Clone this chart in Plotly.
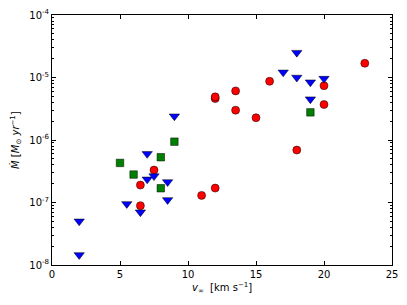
import plotly.graph_objects as go

# Red circles
red_x = [6.5, 6.5, 7.5, 11, 12, 12, 12, 13.5, 13.5, 15, 16, 18, 20, 20, 23]
red_y = [1.9e-7, 8.9e-8, 3.3e-7, 1.3e-7, 1.7e-7, 4.6e-6, 4.9e-6, 6.1e-6, 3.0e-6, 2.27e-6, 8.7e-6, 6.9e-7, 7.4e-6, 3.7e-6, 1.69e-5]

# Blue down-triangles
blue_x = [2, 2, 5.5, 6.5, 7, 7, 7.5, 8.5, 8.5, 9, 17, 18, 18, 19, 19, 20]
blue_y = [5e-8, 1.45e-8, 9.5e-8, 7e-8, 6e-7, 2.35e-7, 2.65e-7, 2.13e-7, 1.1e-7, 2.4e-6, 1.21e-5, 2.5e-5, 1.0e-5, 8.4e-6, 4.5e-6, 9.6e-6]

# Green squares
green_x = [5, 6, 8, 8, 9, 19]
green_y = [4.3e-7, 2.8e-7, 5.3e-7, 1.69e-7, 9.4e-7, 2.77e-6]

x_ticks = [0, 5, 10, 15, 20, 25]
y_ticks = [1e-8, 1e-7, 1e-6, 1e-5, 1e-4]
y_ticktext = ["10<sup>-8</sup>", "10<sup>-7</sup>", "10<sup>-6</sup>", "10<sup>-5</sup>", "10<sup>-4</sup>"]

minor_y = [m * 10.0 ** e for e in range(-8, -4) for m in range(2, 10)]

fig = go.Figure()
fig.add_trace(go.Scatter(x=red_x, y=red_y, mode="markers",
                         marker=dict(symbol="circle", size=8, color="#ff0000",
                                     line=dict(color="#000000", width=0.5))))
fig.add_trace(go.Scatter(x=blue_x, y=blue_y, mode="markers",
                         marker=dict(symbol="triangle-down", size=9, color="#0000ff",
                                     line=dict(color="#000000", width=0.5))))
fig.add_trace(go.Scatter(x=green_x, y=green_y, mode="markers",
                         marker=dict(symbol="square", size=7.5, color="#008000",
                                     line=dict(color="#000000", width=0.5))))

axis_common = dict(showline=True, linecolor="black", linewidth=1, mirror="ticks",
                   ticks="inside", tickcolor="black", ticklen=4, showgrid=False,
                   zeroline=False, automargin=False,
                   tickfont=dict(family="DejaVu Sans", size=10, color="black"))

fig.update_layout(
    width=407, height=305,
    margin=dict(l=52, r=15, t=15, b=40),
    paper_bgcolor="white", plot_bgcolor="white",
    showlegend=False,
    font=dict(family="DejaVu Sans", color="black"),
    xaxis=dict(range=[0, 25], tickvals=x_ticks, ticklabelstandoff=0, **axis_common),
    yaxis=dict(type="log", range=[-8, -4], tickvals=y_ticks, ticktext=y_ticktext,
               minor=dict(tickmode="array", tickvals=minor_y, ticks="inside",
                          ticklen=2, tickcolor="black", showgrid=False),
               **axis_common),
    annotations=[
        dict(text="<i>v</i><sub>∞</sub>  [km s<sup>−1</sup>]", xref="paper", yref="paper",
             x=0.5, y=-0.09, xanchor="center", yanchor="middle", showarrow=False,
             font=dict(size=10, color="black")),
        dict(text="<i>Ṁ</i> [<i>M</i><sub>⊙</sub> <i>yr</i><sup>−1</sup>]", xref="paper", yref="paper",
             x=-0.106, y=0.5, xanchor="center", yanchor="middle", textangle=-90, showarrow=False,
             font=dict(size=10, color="black")),
    ],
)

fig.write_html("out.html", config={"displayModeBar": False},
               post_script="document.body.style.margin='0';document.body.style.padding='0';")
